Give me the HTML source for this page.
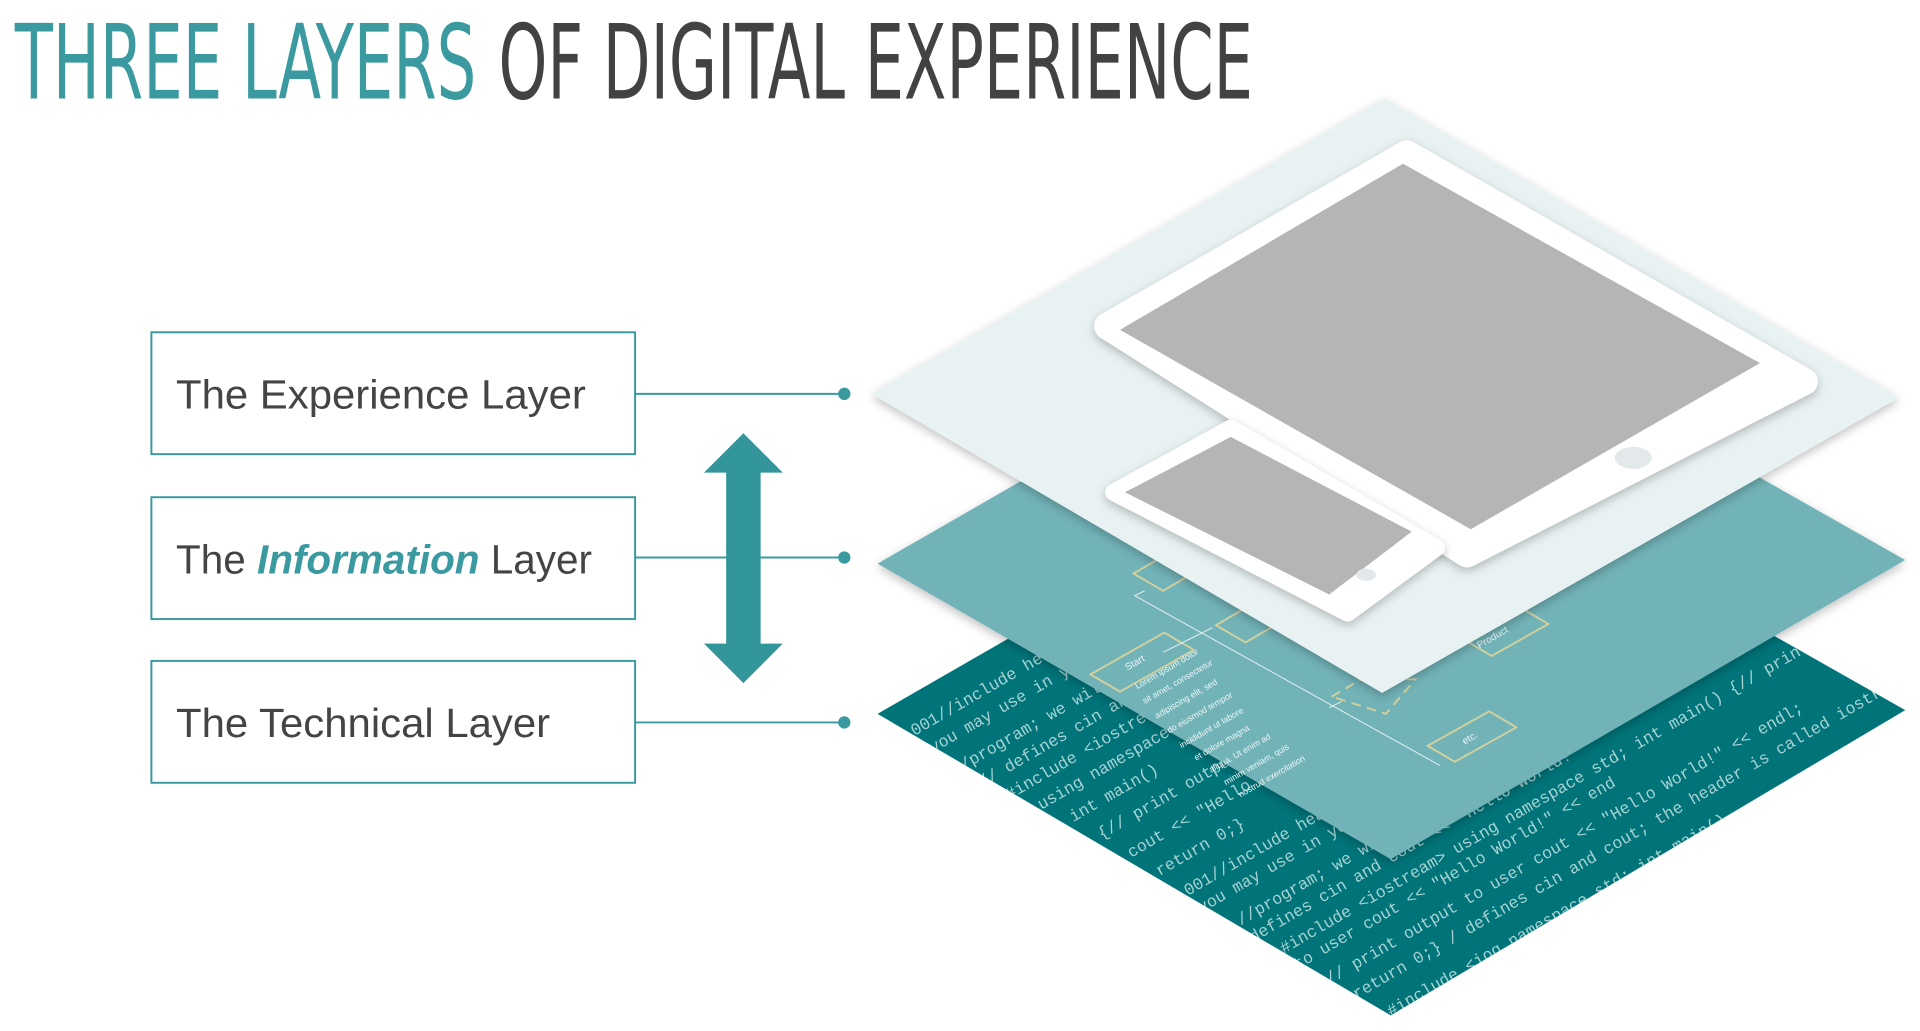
<!DOCTYPE html>
<html><head><meta charset="utf-8"><style>
html,body{margin:0;padding:0;background:#fff;}
svg{display:block;}
</style></head><body>
<svg width="1920" height="1031" viewBox="0 0 1560 837.7" preserveAspectRatio="none" xmlns="http://www.w3.org/2000/svg">
<defs>
<clipPath id="tc"><polygon points="713,580 1130,340 1548,577 1130,825"/></clipPath>
<filter id="sh" x="-10%" y="-10%" width="120%" height="120%"><feGaussianBlur in="SourceAlpha" stdDeviation="4"/><feOffset dx="0" dy="3"/><feComponentTransfer><feFuncA type="linear" slope="0.25"/></feComponentTransfer><feMerge><feMergeNode/><feMergeNode in="SourceGraphic"/></feMerge></filter>
</defs>
<text x="12" y="80" font-family="'Liberation Sans Narrow','DejaVu Sans Condensed','Liberation Sans',sans-serif" font-size="84" fill="#3a9aa0" textLength="375" lengthAdjust="spacingAndGlyphs">THREE LAYERS</text>
<text x="405" y="80" font-family="'Liberation Sans Narrow','DejaVu Sans Condensed','Liberation Sans',sans-serif" font-size="84" fill="#424242" textLength="613" lengthAdjust="spacingAndGlyphs">OF DIGITAL EXPERIENCE</text>

<g fill="#fff" stroke="#3a9aa0" stroke-width="1.6">
<rect x="123" y="270" width="393" height="99"/>
<rect x="123" y="404" width="393" height="99"/>
<rect x="123" y="537" width="393" height="99"/>
</g>
<g font-family="'Liberation Sans',sans-serif" font-size="33" fill="#444">
<text x="143" y="332" textLength="333" lengthAdjust="spacingAndGlyphs">The Experience Layer</text>
<text x="143" y="466" textLength="338" lengthAdjust="spacingAndGlyphs">The <tspan fill="#3a9aa0" font-style="italic" font-weight="bold">Information</tspan> Layer</text>
<text x="143" y="599" textLength="304" lengthAdjust="spacingAndGlyphs">The Technical Layer</text>
</g>
<g stroke="#3a9aa0" stroke-width="1.6">
<line x1="516" y1="320" x2="686" y2="320"/>
<line x1="516" y1="453" x2="686" y2="453"/>
<line x1="516" y1="587" x2="686" y2="587"/>
</g>
<g fill="#3a9aa0"><circle cx="686" cy="320" r="5"/><circle cx="686" cy="453" r="5"/><circle cx="686" cy="587" r="5"/></g>
<polygon fill="#31959a" points="604,352 636,384 618,384 618,523 636,523 604,555 572,523 590,523 590,384 572,384"/>

<polygon points="713,580 1130,340 1548,577 1130,825" fill="#007479"/>
<g clip-path="url(#tc)" font-family="'Liberation Mono',monospace" font-size="13.5" fill="#a6d3d5">
<text transform="translate(743,598) rotate(-30)">001//include header files using namespace std;</text>
<text transform="translate(758,612) rotate(-30)">you may use in your program</text>
<text transform="translate(776,630) rotate(-30)">//program; we will need</text>
<text transform="translate(798,640) rotate(-30)">// defines cin and cout</text>
<text transform="translate(820,650) rotate(-30)">#include &lt;iostream&gt; using</text>
<text transform="translate(846,658) rotate(-30)">using namespace std;</text>
<text transform="translate(872,668) rotate(-30)">int main()</text>
<text transform="translate(895,682) rotate(-30)">{// print output to user</text>
<text transform="translate(919,697) rotate(-30)">cout &lt;&lt; "Hello World!"</text>
<text transform="translate(942,712) rotate(-30)">return 0;}</text>
<text transform="translate(965,728) rotate(-30)">001//include header files</text>
<text transform="translate(976,742) rotate(-30)">you may use in your</text>
<text transform="translate(1008,752) rotate(-30)">//program; we will cout &lt;&lt; "Hello World!"</text>
<text transform="translate(1018,766) rotate(-30)">defines cin and cout &lt;&lt; "Hello World!"</text>
<text transform="translate(1043,775) rotate(-30)">#include &lt;iostream&gt; using namespace std; int main() {// print output</text>
<text transform="translate(1054,788) rotate(-30)">to user cout &lt;&lt; "Hello World!" &lt;&lt; end</text>
<text transform="translate(1080,800) rotate(-30)">// print output to user cout &lt;&lt; "Hello World!" &lt;&lt; endl;</text>
<text transform="translate(1102,812) rotate(-30)">return 0;} / defines cin and cout; the header is called iostream</text>
<text transform="translate(1130,826) rotate(-30)">#include &lt;iog namespace std; int main()</text>
</g>

<polygon points="713,458 1130,218 1548,455 1130,698" fill="#72b3b8" filter="url(#sh)"/>
<g stroke="#d6d19c" stroke-width="1.5" fill="none">
<polygon points="886,548 946,514 970,528 910,562"/>
<polygon points="921,466 945,452 969,466 945,480"/>
<polygon points="988,508 1012,494 1036,508 1012,522"/>
<polygon points="1190,520 1236,494 1258,507 1212,533"/>
<polygon points="1160,606 1210,578 1232,591 1182,619"/>
<polygon points="1082,566 1106,552 1150,552 1126,580" stroke-dasharray="8,5"/>
</g>
<g stroke="#e8f0f0" stroke-width="0.8" fill="none">
<polyline points="930,480 922,484 1170,622"/>
<line x1="945" y1="530" x2="985" y2="510"/>
<line x1="1080" y1="575" x2="1090" y2="570"/>
<line x1="1170" y1="535" x2="1188" y2="525"/>
</g>
<g font-family="'Liberation Sans',sans-serif" font-size="8" fill="#eef6f6">
<text transform="translate(916,545) rotate(-30)">Start</text>
<text transform="translate(1202,527) rotate(-30)">Product</text>
<text transform="translate(1190,605) rotate(-30)">etc.</text>
<g font-size="7">
<text transform="translate(924,560) rotate(-30)">Lorem ipsum dolor</text>
<text transform="translate(930,572) rotate(-30)">sit amet, consectetur</text>
<text transform="translate(940,584) rotate(-30)">adipiscing elit, sed</text>
<text transform="translate(950,596) rotate(-30)">do eiusmod tempor</text>
<text transform="translate(960,608) rotate(-30)">incididunt ut labore</text>
<text transform="translate(972,618) rotate(-30)">et dolore magna</text>
<text transform="translate(984,628) rotate(-30)">aliqua. Ut enim ad</text>
<text transform="translate(996,638) rotate(-30)">minim veniam, quis</text>
<text transform="translate(1008,648) rotate(-30)">nostrud exercitation</text>
</g>
</g>

<polygon points="708,320 1125,80 1543,323 1123,563" fill="#e9f2f3" filter="url(#sh)"/>
<polygon points="1143,125 1466,310 1192,450 900,265" fill="#fff" stroke="#fff" stroke-width="22" stroke-linejoin="round" filter="url(#sh)"/>
<polygon points="1140,133 1430,295 1195,430 910,268" fill="#b5b5b5"/>
<ellipse cx="1327" cy="372" rx="15" ry="9" fill="#e3e9eb"/>
<polygon points="1000,348 1167,445 1095,498 905,400" fill="#fff" stroke="#fff" stroke-width="14" stroke-linejoin="round" filter="url(#sh)"/>
<polygon points="1000,355 1147,432 1080,483 914,400" fill="#b5b5b5"/>
<ellipse cx="1110" cy="467" rx="8" ry="5" fill="#e3e9eb"/>
</svg>
</body></html>
